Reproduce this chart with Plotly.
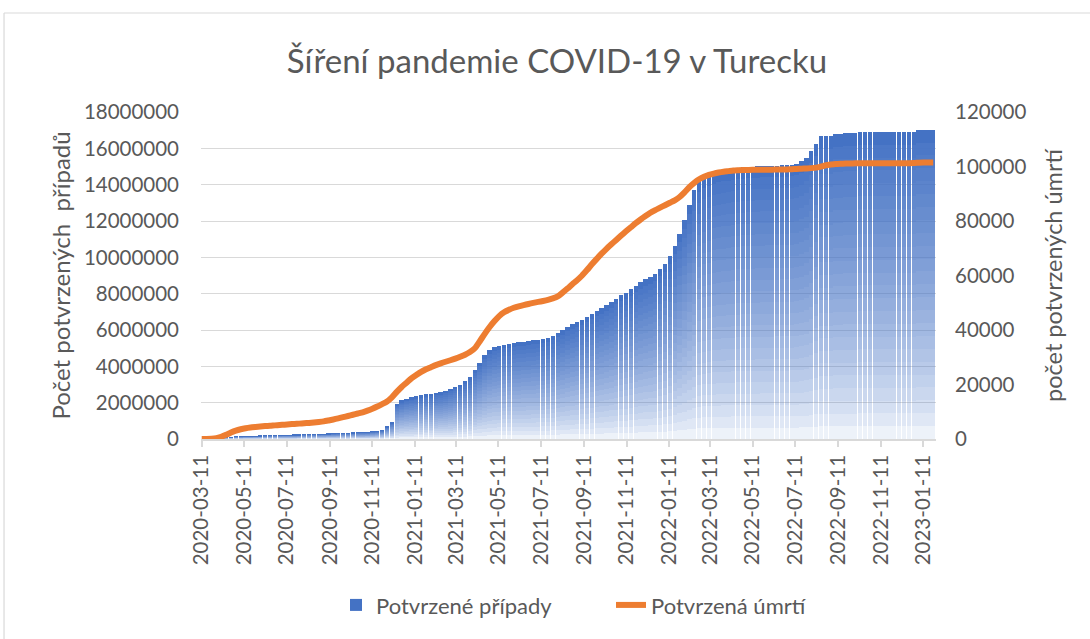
import plotly.graph_objects as go
import pandas as pd

# Weekly cumulative values (starting 2020-03-11, every 7 days)
cases = [
    0, 191, 2433, 15679, 38226, 69392, 98674, 117589, 131744, 143114,
    152587, 159797, 166422, 172114, 181298, 191657, 201098, 207897, 214001, 220572,
    227019, 235429, 244392, 253108, 262507, 273301, 284943, 296391, 308069, 318663,
    328226, 340450, 351413, 365152, 382313, 404894, 428994, 467730, 680000, 900000,
    1950000, 2120000, 2220000, 2290000, 2340000, 2400000, 2450000, 2490000, 2530000, 2580000,
    2660000, 2760000, 2880000, 3000000, 3170000, 3400000, 3810000, 4200000, 4620000, 4880000,
    5040000, 5140000, 5200000, 5240000, 5280000, 5320000, 5360000, 5390000, 5430000, 5470000,
    5510000, 5580000, 5680000, 5850000, 6000000, 6180000, 6320000, 6430000, 6560000, 6720000,
    6880000, 7040000, 7200000, 7360000, 7550000, 7730000, 7900000, 8060000, 8230000, 8420000,
    8630000, 8790000, 8930000, 9070000, 9360000, 9620000, 10050000, 10600000, 11300000, 12050000,
    12900000, 13700000, 14180000, 14420000, 14560000, 14660000, 14740000, 14800000, 14840000, 14890000,
    14930000, 14960000, 14980000, 15000000, 15020000, 15030000, 15040000, 15040000, 15050000, 15060000,
    15070000, 15100000, 15150000, 15280000, 15470000, 15870000, 16240000, 16660000, 16660000, 16660000,
    16790000, 16790000, 16840000, 16840000, 16840000, 16900000, 16900000, 16900000, 16900000, 16900000,
    16900000, 16900000, 16900000, 16900000, 16900000, 16900000, 16900000, 17030000, 17030000, 17030000,
    17030000,
]

deaths = [
    0, 4, 59, 277, 812, 1518, 2376, 3081, 3584, 3952,
    4222, 4431, 4609, 4729, 4842, 5001, 5150, 5260, 5402, 5526,
    5645, 5784, 5891, 6058, 6245, 6462, 6800, 7150, 7550, 8000,
    8450, 8900, 9350, 9800, 10400, 11100, 11900, 12800, 13750, 15300,
    17300, 19100, 20650, 22250, 23500, 24650, 25600, 26350, 27100, 27750,
    28350, 28900, 29500, 30180, 30920, 31890, 33300, 35800, 38500, 41000,
    43200, 45100, 46500, 47400, 48150, 48700, 49150, 49550, 49950, 50300,
    50650, 51050, 51600, 52300, 53700, 55200, 56800, 58300, 60000, 62000,
    64100, 66100, 68000, 69800, 71450, 73050, 74650, 76200, 77700, 79200,
    80550, 81800, 83000, 84000, 84900, 85800, 86700, 87600, 88800, 90500,
    92400, 94000, 95300, 96200, 96900, 97400, 97800, 98100, 98300, 98500,
    98600, 98700, 98750, 98800, 98800, 98800, 98820, 98850, 98870, 98900,
    98930, 99000, 99100, 99200, 99300, 99400, 99600, 100000, 100450, 100700,
    100900, 101000, 101080, 101120, 101150, 101170, 101190, 101200, 101200, 101200,
    101200, 101200, 101200, 101200, 101200, 101200, 101250, 101400, 101500, 101500,
    101500,
]

dates = pd.date_range("2020-03-11", periods=len(cases), freq="7D")

tick_labels = [
    "2020-03-11", "2020-05-11", "2020-07-11", "2020-09-11", "2020-11-11",
    "2021-01-11", "2021-03-11", "2021-05-11", "2021-07-11", "2021-09-11",
    "2021-11-11", "2022-01-11", "2022-03-11", "2022-05-11", "2022-07-11",
    "2022-09-11", "2022-11-11", "2023-01-11",
]

title_text = "Šíření pandemie COVID-19 v Turecku"
name_cases = "Potvrzené případy"
name_deaths = "Potvrzená úmrtí"
y1_title = "Počet potvrzených  případů"
y2_title = "počet potvrzených úmrtí"

FONT = "Lato"
GRAY = "#595959"
GRID = "#D9D9D9"

fig = go.Figure()

# Gradient bars: each bar split into stacked slices with rising opacity
N = 24
for k in range(N):
    t = (k + 0.5) / N
    a = 1.0 if k == N - 1 else 0.03 + 0.97 * t ** 0.7
    fig.add_trace(go.Bar(
        x=dates, y=[v / N for v in cases],
        marker=dict(color=f"rgba(68,114,196,{a:.3f})", line=dict(width=0)),
        name=name_cases, showlegend=(k == N - 1), legendrank=1,
        hoverinfo="skip", yaxis="y",
    ))

fig.add_trace(go.Scatter(
    x=dates, y=deaths, mode="lines", yaxis="y2",
    line=dict(color="#ED7D31", width=6, shape="spline", smoothing=0.6),
    name=name_deaths, legendrank=2,
))

fig.update_layout(
    width=1090, height=639,
    margin=dict(l=201, r=154, t=112, b=200),
    paper_bgcolor="white", plot_bgcolor="white",
    barmode="stack", bargap=0.1,
    font=dict(family=FONT, size=20.5, color=GRAY),
    title=dict(text=title_text, x=0.511, xanchor="center", y=0.904, yref="container",
               yanchor="middle", font=dict(family=FONT, size=33, color=GRAY)),
    xaxis=dict(
        type="date", range=["2020-03-10", "2023-01-29"],
        tickvals=tick_labels, ticktext=tick_labels, tickangle=-90,
        ticks="outside", ticklen=6, tickcolor=GRID, tickwidth=1.5,
        showline=True, linecolor=GRID, linewidth=1.5, showgrid=False,
        tickfont=dict(family=FONT, size=20.5, color=GRAY),
    ),
    yaxis=dict(
        range=[0, 18000000], dtick=2000000, tickformat="d",
        showgrid=True, gridcolor=GRID, gridwidth=1.3, zeroline=False,
        tickfont=dict(family=FONT, size=20.5, color=GRAY), ticklabelstandoff=21,
        title=dict(text=y1_title, font=dict(family=FONT, size=24, color=GRAY), standoff=6),
    ),
    yaxis2=dict(
        overlaying="y", side="right", range=[0, 120000], dtick=20000, tickformat="d",
        showgrid=False, zeroline=False,
        tickfont=dict(family=FONT, size=20.5, color=GRAY), ticklabelstandoff=18,
        title=dict(text=y2_title, font=dict(family=FONT, size=23.5, color=GRAY), standoff=20),
    ),
    legend=dict(orientation="h", x=0.1837, xanchor="left", y=-0.508, yanchor="middle",
                traceorder="normal", entrywidth=230, entrywidthmode="pixels",
                font=dict(family=FONT, size=22, color=GRAY),
                bgcolor="rgba(0,0,0,0)"),
    shapes=[
        dict(type="line", xref="paper", yref="paper", x0=-0.268, x1=1.3, y0=1.3028, y1=1.3028,
             line=dict(color=GRID, width=1.2)),
        dict(type="line", xref="paper", yref="paper", x0=-0.268, x1=-0.268, y0=1.3028, y1=-0.7,
             line=dict(color=GRID, width=1.2)),
    ],
)

fig.write_html("out.html", config={"displayModeBar": False},
               post_script="document.body.style.margin='0';")
